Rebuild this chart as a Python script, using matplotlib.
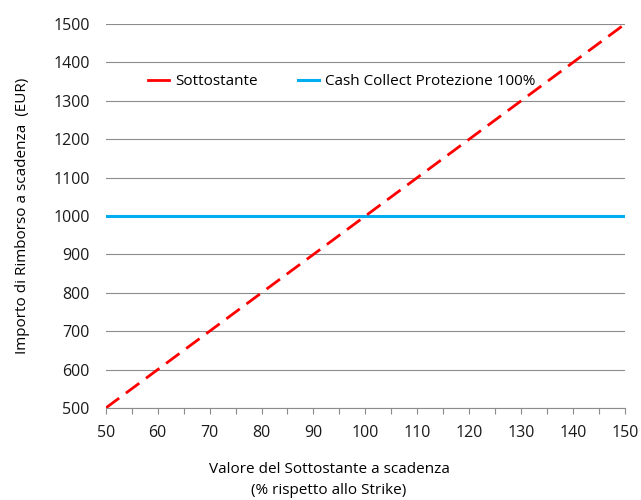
import matplotlib
matplotlib.use("Agg")
from matplotlib import pyplot as plt
from matplotlib.lines import Line2D
from matplotlib.ticker import MultipleLocator

# valori
strike_pct = [50, 60, 70, 80, 90, 100, 110, 120, 130, 140, 150]
sottostante = [500, 600, 700, 800, 900, 1000, 1100, 1200, 1300, 1400, 1500]
cash_collect = [1000, 1000, 1000, 1000, 1000, 1000, 1000, 1000, 1000, 1000, 1000]

red = "#ff0000"
blue = "#00aeef"
grid_col = "#8c8c8c"

plt.rcParams['font.family'] = ['Open Sans', 'DejaVu Sans']

fig = plt.figure(figsize=(6.41, 5.0), dpi=100)
ax = fig.add_axes([0.165, 0.184, 0.81, 0.768])

ax.plot(strike_pct, cash_collect, color=blue, linewidth=2.2, zorder=3)
ax.plot(strike_pct, sottostante, color=red, linewidth=2.0,
        dashes=(6, 3), zorder=4)

ax.set_xlim(50, 150)
ax.set_ylim(500, 1500)
ax.xaxis.set_major_locator(MultipleLocator(10))
ax.xaxis.set_minor_locator(MultipleLocator(5))
ax.yaxis.set_major_locator(MultipleLocator(100))

ax.yaxis.grid(True, color=grid_col, linewidth=0.8)
ax.set_axisbelow(True)
for s in ["top", "right", "left"]:
    ax.spines[s].set_visible(False)
ax.spines["bottom"].set_color(grid_col)
ax.spines["bottom"].set_linewidth(0.8)

ax.tick_params(axis="y", length=0, pad=11.5, labelsize=11.5, colors="#1a1a1a")
ax.tick_params(axis="x", which="both", direction="out", length=4,
               width=0.8, labelsize=11.5, colors="#1a1a1a", pad=8)
ax.tick_params(axis="x", which="both", color=grid_col)

ax.set_ylabel("Importo di Rimborso a scadenza  (EUR)", fontsize=11, labelpad=17)
ax.set_xlabel("Valore del Sottostante a scadenza\n(% rispetto allo Strike)",
              fontsize=11, linespacing=1.6)
ax.xaxis.set_label_coords(0.43, -0.14)

handles = [Line2D([0], [0], color=red, linewidth=2.0),
           Line2D([0], [0], color=blue, linewidth=2.2)]
ax.legend(handles, ["Sottostante", "Cash Collect Protezione 100%"],
          loc="upper left", bbox_to_anchor=(0.055, 0.905), ncol=2, frameon=False,
          fontsize=11, handlelength=1.4, handletextpad=0.4, columnspacing=2.6)

fig.savefig("out.png", dpi=100)
